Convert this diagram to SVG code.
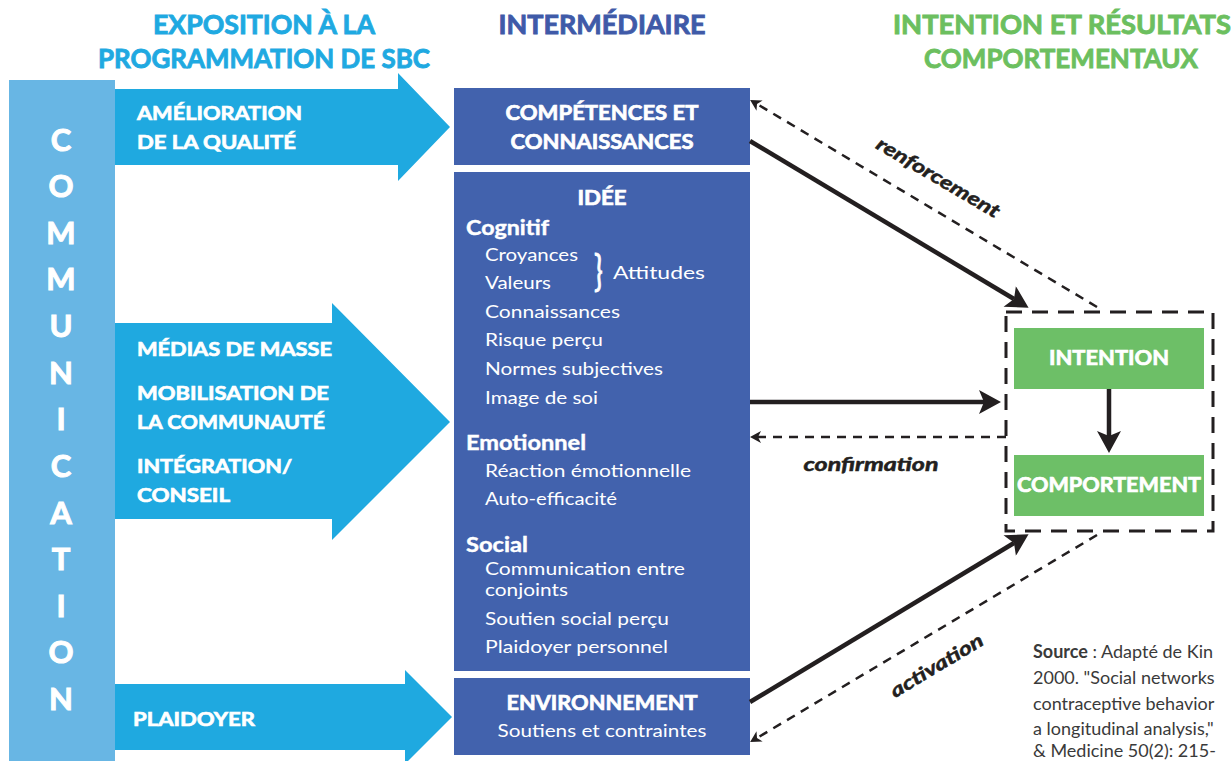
<svg xmlns="http://www.w3.org/2000/svg" width="1231" height="761" viewBox="0 0 1231 761">
<style>
text{font-family:Lato,"Open Sans","Liberation Sans",sans-serif;}
.hdr{font-size:27px;font-weight:bold;text-anchor:middle;stroke-width:0.9;}
.arw{font-size:19.5px;font-weight:bold;fill:#fff;stroke:#fff;stroke-width:0.7;}
.ttl{font-size:20px;font-weight:bold;fill:#fff;text-anchor:middle;stroke:#fff;stroke-width:0.7;}
.sec{font-size:20px;font-weight:bold;fill:#fff;stroke:#fff;stroke-width:0.4;}
.itm{font-size:18px;fill:#fff;}
.com{font-size:31px;font-weight:bold;fill:#fff;text-anchor:middle;stroke:#fff;stroke-width:1;}
.lbl{font-size:19px;font-weight:bold;font-style:italic;fill:#231f20;text-anchor:middle;stroke:#231f20;stroke-width:0.5;}
.src{font-size:18px;fill:#3a3a3a;}
.blue{fill:#4262ad;}
.green{fill:#6dbf67;}
.sol{stroke:#231f20;stroke-width:4.5;fill:none;}
.dsh{stroke:#231f20;stroke-width:2.5;fill:none;stroke-dasharray:9 7;}
</style>
<defs>
<marker id="big" markerUnits="userSpaceOnUse" markerWidth="24" markerHeight="24" viewBox="0 0 22 24" refX="5" refY="12" orient="auto">
<path d="M0,0 L22,12 L0,24 L5,12 z" fill="#231f20"/>
</marker>
<marker id="small" markerUnits="userSpaceOnUse" markerWidth="12" markerHeight="12" viewBox="0 0 11 12" refX="3" refY="6" orient="auto">
<path d="M0,0 L11,6 L0,12 L3,6 z" fill="#231f20"/>
</marker>
</defs>
<rect width="1231" height="761" fill="#fff"/>

<g id="headers">
<text class="hdr" x="264" y="34" fill="#1fa9e1" stroke="#1fa9e1" textLength="222" lengthAdjust="spacingAndGlyphs">EXPOSITION À LA</text>
<text class="hdr" x="264" y="68" fill="#1fa9e1" stroke="#1fa9e1" textLength="332" lengthAdjust="spacingAndGlyphs">PROGRAMMATION DE SBC</text>
<text class="hdr" x="602" y="34" fill="#3f5aa8" stroke="#3f5aa8" textLength="207" lengthAdjust="spacingAndGlyphs">INTERMÉDIAIRE</text>
<text class="hdr" x="1062" y="34" fill="#6cbf5f" stroke="#6cbf5f" textLength="338" lengthAdjust="spacingAndGlyphs">INTENTION ET RÉSULTATS</text>
<text class="hdr" x="1061" y="68" fill="#6cbf5f" stroke="#6cbf5f" textLength="274" lengthAdjust="spacingAndGlyphs">COMPORTEMENTAUX</text>
</g>

<g id="communication">
<rect x="9" y="80" width="106" height="681" fill="#68b6e4"/>
<text class="com" x="61" y="151">C</text>
<text class="com" x="61" y="197">O</text>
<text class="com" x="61" y="244">M</text>
<text class="com" x="61" y="290">M</text>
<text class="com" x="61" y="337">U</text>
<text class="com" x="61" y="384">N</text>
<text class="com" x="61" y="430">I</text>
<text class="com" x="61" y="477">C</text>
<text class="com" x="61" y="524">A</text>
<text class="com" x="61" y="570">T</text>
<text class="com" x="61" y="617">I</text>
<text class="com" x="61" y="663">O</text>
<text class="com" x="61" y="710">N</text>
</g>

<g id="arrow-qualite">
<polygon points="115,89 398,89 398,73 450,127 398,181 398,165 115,165" fill="#1fa9e0"/>
<text class="arw" x="137" y="120" textLength="165" lengthAdjust="spacingAndGlyphs">AMÉLIORATION</text>
<text class="arw" x="137" y="149" textLength="159" lengthAdjust="spacingAndGlyphs">DE LA QUALITÉ</text>
</g>

<g id="arrow-medias">
<polygon points="115,323 332,323 332,303 450,422 332,540 332,519 115,519" fill="#1fa9e0"/>
<text class="arw" x="137" y="356" textLength="195" lengthAdjust="spacingAndGlyphs">MÉDIAS DE MASSE</text>
<text class="arw" x="137" y="400" textLength="192" lengthAdjust="spacingAndGlyphs">MOBILISATION DE</text>
<text class="arw" x="137" y="429" textLength="188" lengthAdjust="spacingAndGlyphs">LA COMMUNAUTÉ</text>
<text class="arw" x="137" y="473" textLength="155" lengthAdjust="spacingAndGlyphs">INTÉGRATION/</text>
<text class="arw" x="137" y="502" textLength="93" lengthAdjust="spacingAndGlyphs">CONSEIL</text>
</g>

<g id="arrow-plaidoyer">
<polygon points="115,684 405,684 405,670 452,717 405,764 405,750 115,750" fill="#1fa9e0"/>
<text class="arw" x="133" y="726" textLength="122" lengthAdjust="spacingAndGlyphs">PLAIDOYER</text>
</g>

<g id="competences">
<rect class="blue" x="454" y="88" width="296" height="77"/>
<text class="ttl" x="602" y="120" textLength="193" lengthAdjust="spacingAndGlyphs">COMPÉTENCES ET</text>
<text class="ttl" x="602" y="149" textLength="183" lengthAdjust="spacingAndGlyphs">CONNAISSANCES</text>
</g>

<g id="idee">
<rect class="blue" x="454" y="172" width="296" height="499"/>
<text class="ttl" x="602" y="205" textLength="49" lengthAdjust="spacingAndGlyphs">IDÉE</text>
<text class="sec" x="466" y="235" textLength="83" lengthAdjust="spacingAndGlyphs">Cognitif</text>
<text class="itm" x="485" y="261" textLength="93" lengthAdjust="spacingAndGlyphs">Croyances</text>
<text class="itm" x="485" y="289" textLength="66" lengthAdjust="spacingAndGlyphs">Valeurs</text>
<text x="0" y="0" fill="#fff" stroke="#fff" stroke-width="0.8" font-size="42" font-weight="400" transform="translate(594 286) scale(0.7 1)">}</text>
<text class="itm" x="613" y="279" textLength="92" lengthAdjust="spacingAndGlyphs">Attitudes</text>
<text class="itm" x="485" y="318" textLength="135" lengthAdjust="spacingAndGlyphs">Connaissances</text>
<text class="itm" x="485" y="346" textLength="118" lengthAdjust="spacingAndGlyphs">Risque perçu</text>
<text class="itm" x="485" y="375" textLength="178" lengthAdjust="spacingAndGlyphs">Normes subjectives</text>
<text class="itm" x="485" y="404" textLength="113" lengthAdjust="spacingAndGlyphs">Image de soi</text>
<text class="sec" x="466" y="450" textLength="120" lengthAdjust="spacingAndGlyphs">Emotionnel</text>
<text class="itm" x="485" y="477" textLength="206" lengthAdjust="spacingAndGlyphs">Réaction émotionnelle</text>
<text class="itm" x="485" y="505" textLength="132" lengthAdjust="spacingAndGlyphs">Auto-efficacité</text>
<text class="sec" x="466" y="552" textLength="62" lengthAdjust="spacingAndGlyphs">Social</text>
<text class="itm" x="485" y="575" textLength="200" lengthAdjust="spacingAndGlyphs">Communication entre</text>
<text class="itm" x="485" y="596" textLength="83" lengthAdjust="spacingAndGlyphs">conjoints</text>
<text class="itm" x="485" y="625" textLength="184" lengthAdjust="spacingAndGlyphs">Soutien social perçu</text>
<text class="itm" x="485" y="653" textLength="183" lengthAdjust="spacingAndGlyphs">Plaidoyer personnel</text>
</g>

<g id="environnement">
<rect class="blue" x="454" y="678" width="296" height="77"/>
<text class="ttl" x="602" y="710" textLength="191" lengthAdjust="spacingAndGlyphs">ENVIRONNEMENT</text>
<text class="itm" x="602" y="737" text-anchor="middle" textLength="209" lengthAdjust="spacingAndGlyphs">Soutiens et contraintes</text>
</g>

<g id="resultats">
<rect x="1006" y="312" width="207" height="219" fill="none" stroke="#231f20" stroke-width="3" stroke-dasharray="16 10"/>
</g>

<g id="intention">
<rect class="green" x="1014" y="328" width="190" height="61"/>
<text class="ttl" x="1109" y="365" textLength="120" lengthAdjust="spacingAndGlyphs">INTENTION</text>
</g>

<g id="comportement">
<rect class="green" x="1014" y="455" width="190" height="61"/>
<text class="ttl" x="1109" y="492" textLength="184" lengthAdjust="spacingAndGlyphs">COMPORTEMENT</text>
</g>

<g id="connectors">
<line class="sol" x1="750" y1="141" x2="1014" y2="299" marker-end="url(#big)"/>
<line class="sol" x1="750" y1="402" x2="984" y2="402" marker-end="url(#big)"/>
<line class="sol" x1="750" y1="702" x2="1014" y2="543" marker-end="url(#big)"/>
<line class="sol" x1="1109" y1="389" x2="1109" y2="436" marker-end="url(#big)"/>
<line class="dsh" x1="1097" y1="307" x2="757" y2="104" marker-end="url(#small)"/>
<line class="dsh" x1="1006" y1="437" x2="758" y2="437" marker-end="url(#small)"/>
<line class="dsh" x1="1097" y1="535" x2="757" y2="738" marker-end="url(#small)"/>
<text class="lbl" transform="translate(938 178) rotate(30.5)" x="0" y="6" textLength="140" lengthAdjust="spacingAndGlyphs">renforcement</text>
<text class="lbl" x="871" y="471" textLength="135" lengthAdjust="spacingAndGlyphs">confirmation</text>
<text class="lbl" transform="translate(937 666) rotate(-31)" x="0" y="6" textLength="105" lengthAdjust="spacingAndGlyphs">activation</text>
</g>

<g id="source">
<text class="src" x="1033" y="658"><tspan font-weight="bold">Source</tspan> : Adapté de Kin</text>
<text class="src" x="1033" y="684">2000. "Social networks</text>
<text class="src" x="1033" y="710">contraceptive behavior</text>
<text class="src" x="1033" y="735">a longitudinal analysis,"</text>
<text class="src" x="1033" y="757">&amp; Medicine 50(2): 215-</text>
</g>
</svg>
